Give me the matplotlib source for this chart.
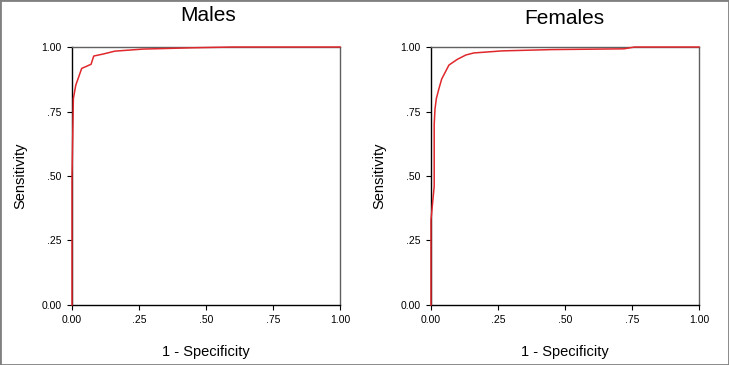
import matplotlib.pyplot as plt
from matplotlib.patches import Rectangle

# ROC curve points (1 - specificity, sensitivity)
males_fpr = [0.0, 0.0, 0.005, 0.014, 0.036, 0.071, 0.081, 0.117, 0.16, 0.265, 0.45, 0.6, 1.0]
males_tpr = [0.0, 0.50, 0.80, 0.852, 0.917, 0.933, 0.965, 0.973, 0.984, 0.992, 0.997, 1.0, 1.0]

females_fpr = [0.0, 0.0, 0.012, 0.012, 0.015, 0.02, 0.03, 0.04, 0.067, 0.098, 0.13, 0.16,
               0.266, 0.45, 0.72, 0.76, 1.0]
females_tpr = [0.0, 0.33, 0.46, 0.70, 0.76, 0.80, 0.84, 0.876, 0.93, 0.952, 0.969, 0.977,
               0.985, 0.99, 0.993, 1.0, 1.0]

ticks = [0.0, 0.25, 0.5, 0.75, 1.0]
tick_labels = ['0.00', '.25', '.50', '.75', '1.00']

plt.rcParams['font.family'] = ['Liberation Sans', 'DejaVu Sans']

fig = plt.figure(figsize=(7.29, 3.65), dpi=100)
fig.add_artist(Rectangle((0, 0), 1, 1, transform=fig.transFigure, fill=False,
                         edgecolor='#808080', lw=2))

panels = [
    (0.0988, males_fpr, males_tpr, 'Males', 0.285, 0.958),
    (0.5912, females_fpr, females_tpr, 'Females', 0.774, 0.948),
]

for left, fpr, tpr, title, tx, ty in panels:
    ax = fig.add_axes([left, 0.1644, 0.3676, 0.7068])
    ax.plot(fpr, tpr, color='#e0282c', lw=1.1, clip_on=False, zorder=5)
    ax.set_xlim(0, 1)
    ax.set_ylim(0, 1)
    ax.set_xticks(ticks)
    ax.set_xticklabels(tick_labels)
    ax.set_yticks(ticks)
    ax.set_yticklabels(tick_labels)
    ax.tick_params(labelsize=7.5, length=3.5, width=0.8, pad=4, direction='out')
    for side in ['left', 'bottom']:
        ax.spines[side].set_color('black')
        ax.spines[side].set_linewidth(1.0)
    for side in ['top', 'right']:
        ax.spines[side].set_color('#606060')
        ax.spines[side].set_linewidth(1.0)
    ax.set_xlabel('1 - Specificity', fontsize=10.5, labelpad=14)
    ax.set_ylabel('Sensitivity', fontsize=10.5, labelpad=10)
    fig.text(tx, ty, title, fontsize=15, ha='center', va='center')

fig.savefig('out.png', dpi=100)
